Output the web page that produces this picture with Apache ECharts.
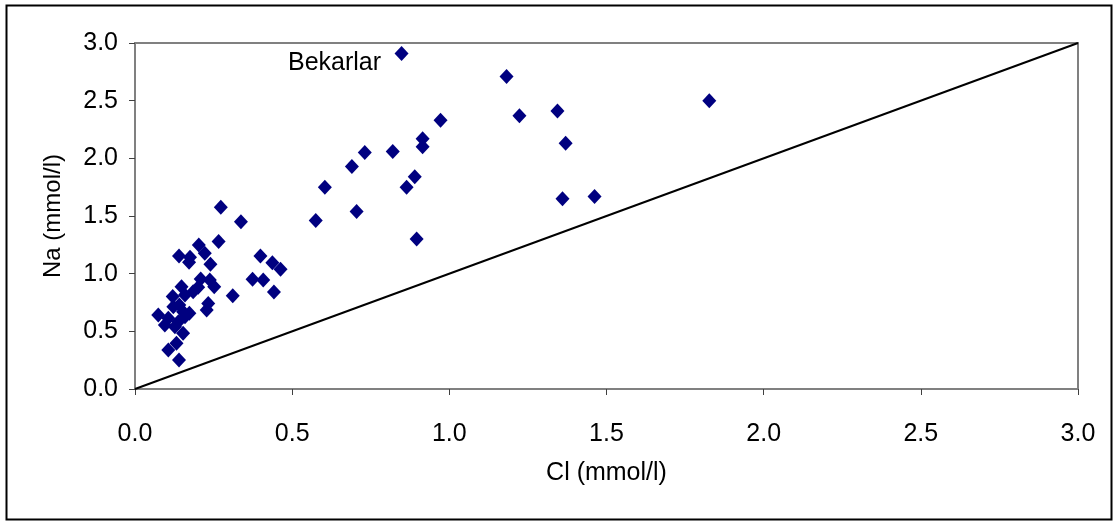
<!DOCTYPE html>
<html>
<head>
<meta charset="utf-8">
<script src="https://cdn.jsdelivr.net/npm/echarts@6/dist/echarts.min.js"></script>
<style>
  html, body { margin: 0; padding: 0; background: #fff; }
  #chart { width: 1113px; height: 522px; }
</style>
</head>
<body>
<div id="chart"></div>
<script>
// Cl (mmol/l) measurements
const clValues = [
  0.848, 1.182, 1.827, 1.223, 1.344, 0.972, 1.370, 0.915, 0.915, 0.731,
  0.820, 0.690, 0.890, 0.864, 0.604, 1.360, 1.462, 0.705, 0.575, 0.896,
  0.273, 0.337, 0.266, 0.140, 0.203, 0.222, 0.175, 0.172, 0.240, 0.399,
  0.437, 0.463, 0.374, 0.408, 0.442, 0.311, 0.209, 0.238, 0.252, 0.148,
  0.201, 0.185, 0.159, 0.120, 0.233, 0.228, 0.141, 0.122, 0.173, 0.153,
  0.074, 0.106, 0.095, 0.138, 0.159, 0.127, 0.153, 0.132, 0.106, 0.140
];
// Na (mmol/l) measurements
const naValues = [
  2.91, 2.71, 2.50, 2.37, 2.41, 2.33, 2.13, 2.17, 2.10, 2.05,
  2.06, 1.93, 1.84, 1.75, 1.75, 1.65, 1.67, 1.54, 1.46, 1.30,
  1.575, 1.45, 1.278, 1.153, 1.249, 1.177, 1.142, 1.099, 1.081, 1.153,
  1.095, 1.038, 0.951, 0.945, 0.841, 0.809, 0.954, 0.945, 0.887, 0.887,
  0.882, 0.844, 0.815, 0.801, 0.742, 0.685, 0.728, 0.714, 0.656, 0.670,
  0.642, 0.613, 0.555, 0.584, 0.627, 0.540, 0.483, 0.396, 0.338, 0.252
];
// 1:1 reference line
const refLine = [[0, 0], [3, 3]];
const seriesLabel = 'Bekarlar';
const xName = 'Cl (mmol/l)';
const yName = 'Na (mmol/l)';

const points = clValues.map((x, i) => [x, naValues[i]]);
const font = '"Liberation Sans", Arial, sans-serif';

const chart = echarts.init(document.getElementById('chart'), null, { renderer: 'canvas' });

const axisCommon = {
  type: 'value',
  min: 0,
  max: 3,
  interval: 0.5,
  nameLocation: 'middle',
  nameTextStyle: { fontFamily: font, fontSize: 24, color: '#000' },
  axisLine: { show: true, onZero: false, lineStyle: { color: '#808080', width: 2 } },
  axisTick: { show: true, inside: false, length: 6, lineStyle: { color: '#404040', width: 1 } },
  axisLabel: {
    fontFamily: font, fontSize: 25, color: '#000',
    formatter: v => v.toFixed(1)
  },
  splitLine: { show: false }
};

chart.setOption({
  animation: false,
  backgroundColor: '#fff',
  grid: {
    left: 135, right: 35, top: 43, bottom: 133,
    show: true, borderColor: '#808080', borderWidth: 2, backgroundColor: '#fff'
  },
  xAxis: Object.assign({}, axisCommon, {
    name: xName,
    nameGap: 72,
    nameTextStyle: Object.assign({}, axisCommon.nameTextStyle, { fontSize: 25 }),
    axisLabel: Object.assign({}, axisCommon.axisLabel, { margin: 33 })
  }),
  yAxis: Object.assign({}, axisCommon, {
    name: yName,
    nameGap: 70,
    nameRotate: 90,
    axisLabel: Object.assign({}, axisCommon.axisLabel, { margin: 17 })
  }),
  graphic: [
    {
      type: 'rect',
      left: 4, top: 3,
      shape: { width: 1105, height: 514 },
      style: { fill: 'none', stroke: '#000', lineWidth: 2 },
      silent: true,
      z: 100
    },
    {
      type: 'text',
      left: 288, top: 51,
      style: { text: seriesLabel, fontFamily: font, fontSize: 25, fill: '#000' }
    }
  ],
  series: [
    {
      type: 'line',
      data: refLine,
      symbol: 'none',
      lineStyle: { color: '#000', width: 2 },
      z: 1
    },
    {
      type: 'scatter',
      data: points,
      symbol: 'diamond',
      symbolSize: [14, 15],
      itemStyle: { color: '#000080', opacity: 1 },
      z: 2
    }
  ]
});
</script>
</body>
</html>
